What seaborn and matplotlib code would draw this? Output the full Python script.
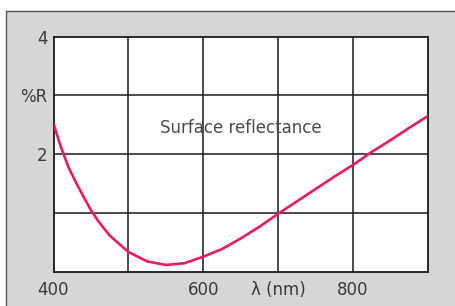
import matplotlib
matplotlib.use("Agg")
import matplotlib.pyplot as plt
import seaborn as sns
import pandas as pd
from matplotlib.patches import Rectangle

# values
wavelength = [400, 410, 420, 430, 440, 450, 460, 475, 500, 525, 550, 575,
              600, 625, 650, 675, 700, 725, 750, 775, 800, 825, 850, 875, 900]
reflectance = [2.52, 2.12, 1.78, 1.52, 1.28, 1.05, 0.86, 0.62, 0.34, 0.18, 0.12, 0.15,
               0.26, 0.39, 0.57, 0.77, 0.99, 1.20, 1.41, 1.62, 1.82, 2.04, 2.24, 2.45, 2.65]

x_ticks = [400, 600, 700, 800]
x_labels = ["400", "600", "λ (nm)", "800"]
y_ticks = [2, 3, 4]
y_labels = ["2", "%R", "4"]
grid_x = [500, 600, 700, 800]
grid_y = [1, 2, 3]

df = pd.DataFrame({"nm": wavelength, "R": reflectance})

sns.set_style("white")
fig = plt.figure(figsize=(4.55, 3.06), dpi=100)
fig.patch.set_facecolor("white")

# grey panel with a dark edge on top and left
fig.add_artist(Rectangle((6 / 455, 0), 1, 1 - 11 / 306, transform=fig.transFigure,
                         facecolor="#d6d6d6", edgecolor="none", zorder=-10))
fig.add_artist(plt.Line2D([6 / 455, 1], [1 - 10.5 / 306] * 2, color="#555555", lw=1.0, zorder=-5))
fig.add_artist(plt.Line2D([6 / 455] * 2, [0, 1 - 10.5 / 306], color="#555555", lw=1.0, zorder=-5))

ax = fig.add_axes([53.5 / 455, 1 - 272 / 306, (428 - 53.5) / 455, (272 - 36.5) / 306])
ax.set_zorder(5)
ax.set_facecolor("white")

for g in grid_x:
    ax.axvline(g, color="#1a1a1a", lw=1.1, zorder=1)
for g in grid_y:
    ax.axhline(g, color="#1a1a1a", lw=1.1, zorder=1)

sns.lineplot(data=df, x="nm", y="R", ax=ax, color="#ec1a5c", lw=1.9, zorder=3)

ax.set_xlim(400, 900)
ax.set_ylim(0, 4)
ax.set_xticks(x_ticks)
ax.set_xticklabels(x_labels)
ax.set_yticks(y_ticks)
ax.set_yticklabels(y_labels)
ax.set_xlabel("")
ax.set_ylabel("")
ax.tick_params(axis="both", length=2.5, width=1.0, color="#1a1a1a",
               labelsize=12, labelcolor="#3a3a3a", pad=2)
ax.tick_params(axis="x", pad=4)
for s in ax.spines.values():
    s.set_visible(True)
    s.set_color("#1a1a1a")
    s.set_linewidth(1.3)

ax.text(650, 2.45, "Surface reflectance", ha="center", va="center",
        fontsize=12, color="#4a4a4a")

fig.savefig("out.png", dpi=100, facecolor=fig.get_facecolor())
